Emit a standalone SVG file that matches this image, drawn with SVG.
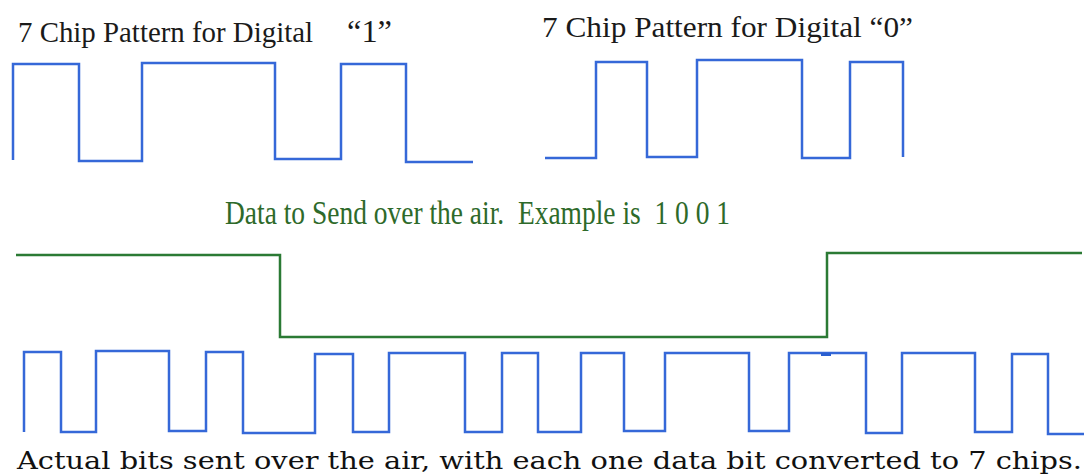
<svg xmlns="http://www.w3.org/2000/svg" width="1084" height="474" viewBox="0 0 1084 474">
<style>
.chip{fill:none;stroke:#3568d8;stroke-width:2.5;stroke-linejoin:miter}
.data{fill:none;stroke:#2b7a34;stroke-width:2.5}
.t{font-family:"Liberation Serif","Times New Roman",serif;fill:#1a1a1a;white-space:pre}
.g{font-family:"Liberation Serif","Times New Roman",serif;fill:#2e6a2a;white-space:pre}
.b{font-family:"DejaVu Serif","Liberation Serif",serif;fill:#111;white-space:pre}
</style>
<rect width="1084" height="474" fill="#fff"/>
<g id="pattern1">
<text class="t" x="18" y="42" font-size="29" textLength="295" lengthAdjust="spacingAndGlyphs">7 Chip Pattern for Digital</text>
<text class="t" x="347" y="42" font-size="31" textLength="45" lengthAdjust="spacingAndGlyphs">“1”</text>
<path class="chip" d="M13,160 V64 H79 V161 H142 V63 H275 V159 H341 V64 H406 V162 H473"/>
</g>
<g id="pattern0">
<text class="t" x="542" y="37" font-size="29" textLength="371" lengthAdjust="spacingAndGlyphs">7 Chip Pattern for Digital “0”</text>
<path class="chip" d="M545,158 H596 V62 H647 V157 H697 V60 H802 V158 H850 V62 H903 V157"/>
</g>
<g id="data">
<text class="g" x="225" y="224" font-size="33" textLength="505" lengthAdjust="spacingAndGlyphs">Data to Send over the air.  Example is  1 0 0 1</text>
<path class="data" d="M16,255 H280 V337 H827 V253 H1082"/>
</g>
<g id="chips">
<path class="chip" d="M24,432 V352 H61 V432 H96 V351 H169 V431 H206 V352 H243 V433 H315 V354 H353 V432 H389 V353 H465 V432 H502 V353 H538 V432 H581 V353 H624 V431 H665 V353 H749 V431 H789 V353 H866 V433 H902 V353 H975 V432 H1012 V354 H1048 V434 H1084"/>
<line x1="821" y1="354.5" x2="831" y2="354.5" stroke="#2a5fd0" stroke-width="3"/>
<text class="b" x="17" y="469" font-size="25" textLength="1065" lengthAdjust="spacingAndGlyphs">Actual bits sent over the air, with each one data bit converted to 7 chips.</text>
</g>
</svg>
